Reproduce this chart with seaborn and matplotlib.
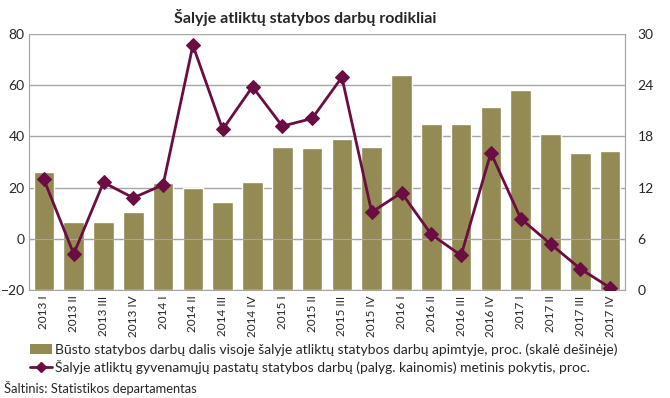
import numpy as np
import pandas as pd
import matplotlib
matplotlib.use("Agg")
import matplotlib.pyplot as plt
import seaborn as sns
from matplotlib.ticker import FixedLocator
from matplotlib.patches import Patch
from matplotlib.lines import Line2D

quarters = ["2013 I", "2013 II", "2013 III", "2013 IV",
            "2014 I", "2014 II", "2014 III", "2014 IV",
            "2015 I", "2015 II", "2015 III", "2015 IV",
            "2016 I", "2016 II", "2016 III", "2016 IV",
            "2017 I", "2017 II", "2017 III", "2017 IV"]
share_values = [13.8, 8.0, 8.0, 9.1, 12.5, 12.0, 10.3, 12.7, 16.8, 16.6,
                17.7, 16.7, 25.2, 19.4, 19.4, 21.5, 23.4, 18.3, 16.0, 16.3]
change_values = [23.2, -5.9, 22.0, 16.0, 21.1, 75.6, 42.7, 59.4, 44.0, 47.0,
                 63.1, 10.4, 18.0, 1.7, -6.5, 33.6, 7.9, -2.0, -11.7, -19.1]
left_ticks = [-20, 0, 20, 40, 60, 80]
right_ticks = [0, 6, 12, 18, 24, 30]

title = "Šalyje atliktų statybos darbų rodikliai"
bar_label = "Būsto statybos darbų dalis visoje šalyje atliktų statybos darbų apimtyje, proc. (skalė dešinėje)"
line_label = "Šalyje atliktų gyvenamųjų pastatų statybos darbų (palyg. kainomis) metinis pokytis, proc."
source = "Šaltinis: Statistikos departamentas"

bar_color = "#948A54"
line_color = "#6B0D43"
grid_color = "#A6A6A6"

sns.set_style("white")
plt.rcParams["font.family"] = ["Lato", "DejaVu Sans"]

df = pd.DataFrame({"q": quarters, "share": share_values, "change": change_values})

fig = plt.figure(figsize=(6.7, 3.98), dpi=100)
ax = fig.add_axes([29/670, 1-290/398, (625-29)/670, (290-34)/398])
ax2 = ax.twinx()

# bars on the base axes (right scale)
sns.barplot(data=df, x="q", y="share", color=bar_color, width=0.69,
            saturation=1, ax=ax, zorder=2)
ax.set_ylim(0, 30)
ax.set_yticks(right_ticks)
ax.yaxis.tick_right()
ax.set_axisbelow(True)
ax.grid(axis="y", color=grid_color, linewidth=1)
ax.set_xlabel("")
ax.set_ylabel("")

# line on the twin axes (left scale)
sns.lineplot(data=df, x="q", y="change", color=line_color, linewidth=2,
             marker="D", markersize=7, markeredgecolor=line_color, ax=ax2,
             zorder=5)
ax2.set_ylim(-20, 80)
ax2.set_yticks(left_ticks)
ax2.yaxis.tick_left()
ax2.set_xlabel("")
ax2.set_ylabel("")
ax2.grid(False)

ax.set_xlim(-0.5, len(quarters) - 0.5)
ax.set_xticks(range(len(quarters)))
ax.set_xticklabels(quarters, rotation=90, fontsize=8.5)
ax.xaxis.set_minor_locator(FixedLocator(np.arange(-0.5, len(quarters), 1.0)))
ax.tick_params(axis="x", which="both", length=0, pad=4)
ax.tick_params(axis="y", length=0, labelsize=10, pad=9)
ax2.tick_params(axis="y", length=0, labelsize=10, pad=3)

# category tick marks along the zero line
ax2.spines["bottom"].set_position(("data", 0))
ax2.spines["bottom"].set_color(grid_color)
ax2.tick_params(axis="x", which="major", length=0, labelbottom=False)
ax2.tick_params(axis="x", which="minor", length=4, direction="inout",
                color=grid_color, width=1)

for a in (ax, ax2):
    a.spines["top"].set_visible(False)
    a.spines["left"].set_color(grid_color)
    a.spines["right"].set_color(grid_color)
ax.spines["bottom"].set_color(grid_color)

fig.text(305/670, 1-17/398, title, ha="center", va="center",
         fontsize=11.5, fontweight="bold")

handles = [Patch(facecolor=bar_color, edgecolor="none"),
           Line2D([0], [0], color=line_color, linewidth=2, marker="D",
                  markersize=5)]
fig.legend(handles, [bar_label, line_label], loc="upper left",
           bbox_to_anchor=(30/670, 1-343/398), frameon=False, fontsize=10,
           handlelength=1.6, handletextpad=0.2, labelspacing=0.3,
           borderaxespad=0, borderpad=0)
fig.text(4/670, 1-388/398, source, ha="left", va="center", fontsize=9.3)

fig.savefig("out.png", dpi=100)
